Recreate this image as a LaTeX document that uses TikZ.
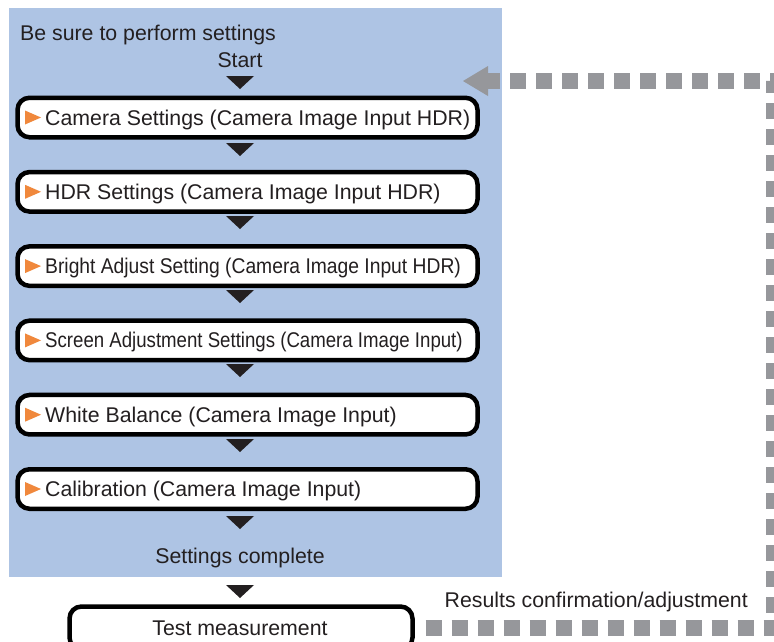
\documentclass[tikz,border=0pt]{standalone}
\usepackage{graphicx}
\usepackage{fontspec}
\setmainfont{Liberation Sans}
\definecolor{panelblue}{RGB}{174,196,228}
\definecolor{dashgray}{RGB}{150,151,155}
\definecolor{tri}{RGB}{240,136,60}
\definecolor{txt}{RGB}{35,31,32}
\begin{document}
\begin{tikzpicture}[x=1pt,y=-1pt,
  stepbox/.style={draw=black,fill=white,line width=4.5pt,rounded corners=12pt,
    minimum width=460pt,minimum height=39.5pt,inner sep=0pt,outer sep=0pt},
  lbl/.style={anchor=base west,inner sep=0pt,text=txt,font=\fontsize{21.3}{24}\selectfont},
  ctxt/.style={anchor=base,inner sep=0pt,text=txt,font=\fontsize{21.3}{24}\selectfont},
  darr/.style={fill=txt},
  otri/.style={fill=tri},
  fb/.style={draw=dashgray,line width=16pt,dash pattern=on 16pt off 10pt,dash phase=23pt,shorten <=10pt}
]
\useasboundingbox (0,0) rectangle (774,641);
% panel
\fill[panelblue] (9,8) rectangle (502,577);
\node[lbl] (note) at (20,40) {Be sure to perform settings};
\node[ctxt] (start) at (240,67) {Start};
% boxes
\foreach \i/\c in {1/117.5,2/191.8,3/266.1,4/340.4,5/414.7,6/489}{
  \node[stepbox] (b\i) at (247.5,\c) {};
  \fill[otri] (25,\c-7) -- (41,\c) -- (25,\c+7) -- cycle;
}
\node[lbl] (l1) at (45,125) {Camera Settings (Camera Image Input HDR)};
\node[lbl] (l2) at (45,199.3) {HDR Settings (Camera Image Input HDR)};
\node[lbl] (l3) at (45,273.6) {\scalebox{0.905}[1]{Bright Adjust Setting (Camera Image Input HDR)}};
\node[lbl] (l4) at (45,347.9) {\scalebox{0.875}[1]{Screen Adjustment Settings (Camera Image Input)}};
\node[lbl] (l5) at (45,422.2) {White Balance (Camera Image Input)};
\node[lbl] (l6) at (45,496.5) {Calibration (Camera Image Input)};
\node[ctxt] (done) at (240,563) {Settings complete};
% black triangles
\foreach \t in {76,143,216,290,364,439,516,585}{
  \fill[darr] (226,\t) -- (254,\t) -- (240,\t+13) -- cycle;
}
% test measurement
\node[stepbox,minimum width=343pt,minimum height=43pt] (test) at (241,628) {};
\node[ctxt] (tl) at (240,635) {Test measurement};
\node[anchor=base east,inner sep=0pt,text=txt,font=\fontsize{21.3}{24}\selectfont] (res) at (748,607) {Results confirmation/adjustment};
% feedback
\coordinate (c1) at (774,628);
\coordinate (c2) at (774,81);
\coordinate (c3) at (488,81);
\draw[fb] (test.east) -- (c1) -- (c2) -- (c3);
\fill[dashgray] (488,66) -- (463,81) -- (488,96) -- cycle;
\end{tikzpicture}
\end{document}
